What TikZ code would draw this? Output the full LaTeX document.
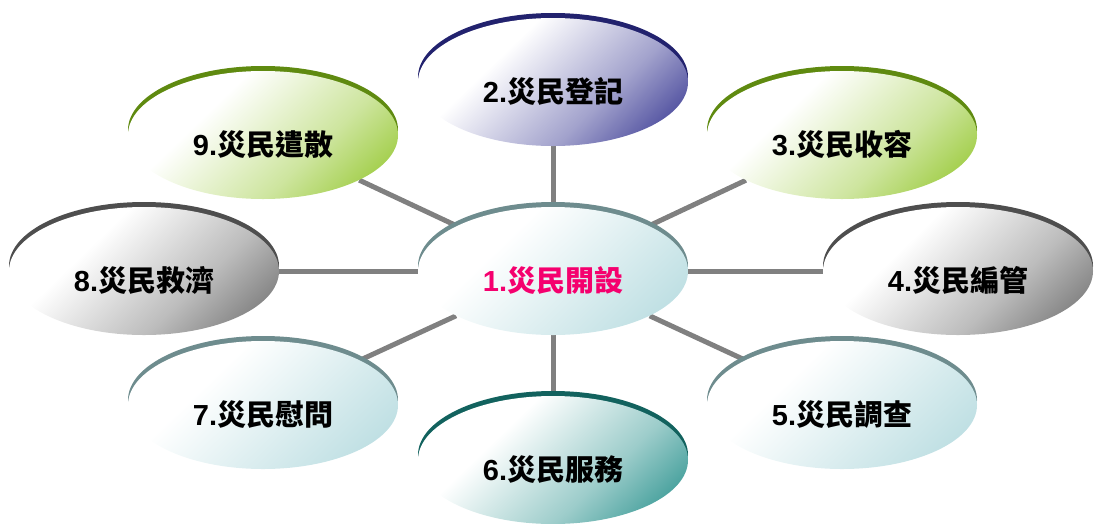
\documentclass[tikz,border=0pt]{standalone}
\usepackage{fontspec}
\newfontfamily\cjkfont{Noto Sans CJK TC}
\newfontfamily\latfont{Liberation Sans}
\usetikzlibrary{shapes.geometric,backgrounds}

\definecolor{blueC}{HTML}{46469A}
\definecolor{blueD}{HTML}{22226E}
\definecolor{greenC}{HTML}{9CCB3E}
\definecolor{greenD}{HTML}{5F8A10}
\definecolor{greyC}{HTML}{7A7A7A}
\definecolor{greyD}{HTML}{4E4E4E}
\definecolor{cyanC}{HTML}{BADDE1}
\definecolor{cyanD}{HTML}{6E8C8E}
\definecolor{tealC}{HTML}{3A9A96}
\definecolor{tealD}{HTML}{12625E}
\definecolor{lineC}{HTML}{808080}
\definecolor{pinkT}{HTML}{F5006E}

\pgfdeclarehorizontalshading{gblue}{100bp}{color(0bp)=(white); color(36bp)=(white); color(62bp)=(blueC!50!white); color(80bp)=(blueC); color(100bp)=(blueC)}
\pgfdeclarehorizontalshading{ggreen}{100bp}{color(0bp)=(white); color(36bp)=(white); color(62bp)=(greenC!50!white); color(80bp)=(greenC); color(100bp)=(greenC)}
\pgfdeclarehorizontalshading{ggrey}{100bp}{color(0bp)=(white); color(36bp)=(white); color(62bp)=(greyC!50!white); color(80bp)=(greyC); color(100bp)=(greyC)}
\pgfdeclarehorizontalshading{gcyan}{100bp}{color(0bp)=(white); color(36bp)=(white); color(62bp)=(cyanC!60!white); color(80bp)=(cyanC); color(100bp)=(cyanC)}
\pgfdeclarehorizontalshading{gteal}{100bp}{color(0bp)=(white); color(36bp)=(white); color(62bp)=(tealC!50!white); color(80bp)=(tealC); color(100bp)=(tealC)}

\newcommand\lbl[2]{\raisebox{-20pt}[0pt][0pt]{{\latfont\bfseries #1}{\cjkfont\bfseries #2}}}

\tikzset{
  bub/.style={ellipse, minimum width=270pt, minimum height=128pt, inner sep=0pt,
    font=\fontsize{29}{32}\selectfont, text=black, shading angle=-46},
  bblue/.style={bub, shading=gblue, preaction={fill=blueD, transform canvas={yshift=5pt}}},
  bgreen/.style={bub, shading=ggreen, preaction={fill=greenD, transform canvas={yshift=5pt}}},
  bgrey/.style={bub, shading=ggrey, preaction={fill=greyD, transform canvas={yshift=5pt}}},
  bcyan/.style={bub, shading=gcyan, preaction={fill=cyanD, transform canvas={yshift=5pt}}},
  bteal/.style={bub, shading=gteal, preaction={fill=tealD, transform canvas={yshift=5pt}}},
  conn/.style={draw=lineC, line width=5pt},
}

\begin{document}
\begin{tikzpicture}[x=1pt, y=-1pt]
\useasboundingbox (0,0) rectangle (1094,523);

\node[bcyan, text=pinkT] (n1) at (553,271) {\lbl{1.}{災民開設}};
\node[bblue]  (n2) at (553,82)  {\lbl{2.}{災民登記}};
\node[bgreen] (n3) at (842,135) {\lbl{3.}{災民收容}};
\node[bgrey]  (n4) at (958,271) {\lbl{4.}{災民編管}};
\node[bcyan]  (n5) at (842,405) {\lbl{5.}{災民調查}};
\node[bteal]  (n6) at (553,460) {\lbl{6.}{災民服務}};
\node[bcyan]  (n7) at (263,405) {\lbl{7.}{災民慰問}};
\node[bgrey]  (n8) at (144,271) {\lbl{8.}{災民救濟}};
\node[bgreen] (n9) at (263,135) {\lbl{9.}{災民遣散}};

\begin{scope}[on background layer]
  \foreach \k in {2,...,9} { \draw[conn] (n1) -- (n\k); }
\end{scope}
\end{tikzpicture}
\end{document}
